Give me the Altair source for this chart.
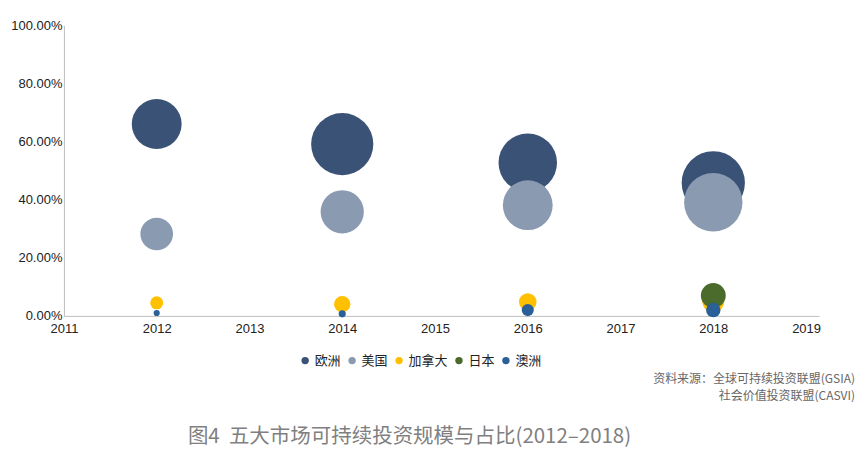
import altair as alt
import pandas as pd

# ---- data ----
markets = ["欧洲", "美国", "加拿大", "日本", "澳洲"]
colors = ["#3b5277", "#8a9ab1", "#ffc000", "#4a6b2c", "#2a6097"]

europe_years = [2012, 2014, 2016, 2018]
europe_share = [66.0, 59.1, 52.7, 45.8]          # %
europe_scale = [8758, 13608, 12040, 14075]       # bubble size (scale)

us_years = [2012, 2014, 2016, 2018]
us_share = [28.2, 35.8, 38.1, 39.1]
us_scale = [3740, 6572, 8723, 11995]

canada_years = [2012, 2014, 2016, 2018]
canada_share = [4.5, 4.0, 4.8, 5.0]
canada_scale = [589, 945, 1086, 1699]

japan_years = [2018]
japan_share = [7.0]
japan_scale = [2180]

australia_years = [2012, 2014, 2016, 2018]
australia_share = [1.0, 0.7, 2.0, 2.0]
australia_scale = [134, 180, 516, 734]

x_ticks = [2011, 2012, 2013, 2014, 2015, 2016, 2017, 2018, 2019]
y_ticks = [0, 0.2, 0.4, 0.6, 0.8, 1.0]

title_text = "图4\u00a0\u00a0五大市场可持续投资规模与占比(2012–2018)"
source_lines = ["资料来源：全球可持续投资联盟(GSIA)", "社会价值投资联盟(CASVI)"]

series = [
    (markets[0], europe_years, europe_share, europe_scale),
    (markets[1], us_years, us_share, us_scale),
    (markets[2], canada_years, canada_share, canada_scale),
    (markets[3], japan_years, japan_share, japan_scale),
    (markets[4], australia_years, australia_share, australia_scale),
]
rows = []
for z, (m, ys, sh, sc) in enumerate(series):
    for y, s, c in zip(ys, sh, sc):
        rows.append({"市场": m, "年份": y, "占比": s / 100.0, "规模": c, "z": z})
df = pd.DataFrame(rows)

LATIN = "Liberation Sans"
CJK = "Noto Sans CJK SC"

bubbles = alt.Chart(df).mark_circle(opacity=1).encode(
    x=alt.X("年份:Q",
            scale=alt.Scale(domain=[2011, 2019.14], nice=False, zero=False),
            axis=alt.Axis(values=x_ticks, format="d", title=None, ticks=False,
                          grid=False, labelPadding=7, labelFontSize=13,
                          labelFont=LATIN, labelColor="#222222",
                          domainColor="#bfbfbf", labelFlush=False)),
    y=alt.Y("占比:Q",
            scale=alt.Scale(domain=[0, 1], nice=False),
            axis=alt.Axis(values=y_ticks, format=".2%", title=None, ticks=False,
                          grid=False, labelPadding=2, labelFontSize=13,
                          labelFont=LATIN, labelColor="#222222",
                          domainColor="#bfbfbf")),
    size=alt.Size("规模:Q",
                  scale=alt.Scale(type="linear", domain=[0, 15000], range=[0, 4275]),
                  legend=None),
    color=alt.Color("市场:N",
                    scale=alt.Scale(domain=markets, range=colors),
                    legend=alt.Legend(title=None, orient="none", direction="horizontal",
                                      legendX=235, legendY=329, symbolType="circle",
                                      symbolSize=55, labelFontSize=13, labelFont=CJK,
                                      labelColor="#222222", columnPadding=4,
                                      labelOffset=3, symbolStrokeWidth=0)),
    order=alt.Order("z:Q"),
)

title_df = pd.DataFrame({"t": [title_text]})
title_mark = alt.Chart(title_df).mark_text(
    font=CJK, fontSize=20.5, color="#808080", align="center", baseline="middle"
).encode(text="t:N", x=alt.value(346), y=alt.value(412))

src_df = pd.DataFrame({"t": source_lines, "yy": [354, 371]})
src_mark = alt.Chart(src_df).mark_text(
    font=CJK, fontSize=12, color="#666666", align="right", baseline="middle"
).encode(text="t:N", x=alt.value(792), y=alt.Y("yy:Q", scale=None))

chart = alt.layer(bubbles, src_mark, title_mark).properties(
    width=756, height=291,
    autosize=alt.AutoSizeParams(type="none"),
    padding={"left": 56, "top": 17, "right": 40, "bottom": 132},
).configure_view(stroke=None)

chart.save("out.html", embed_options={"renderer": "svg", "actions": False})
